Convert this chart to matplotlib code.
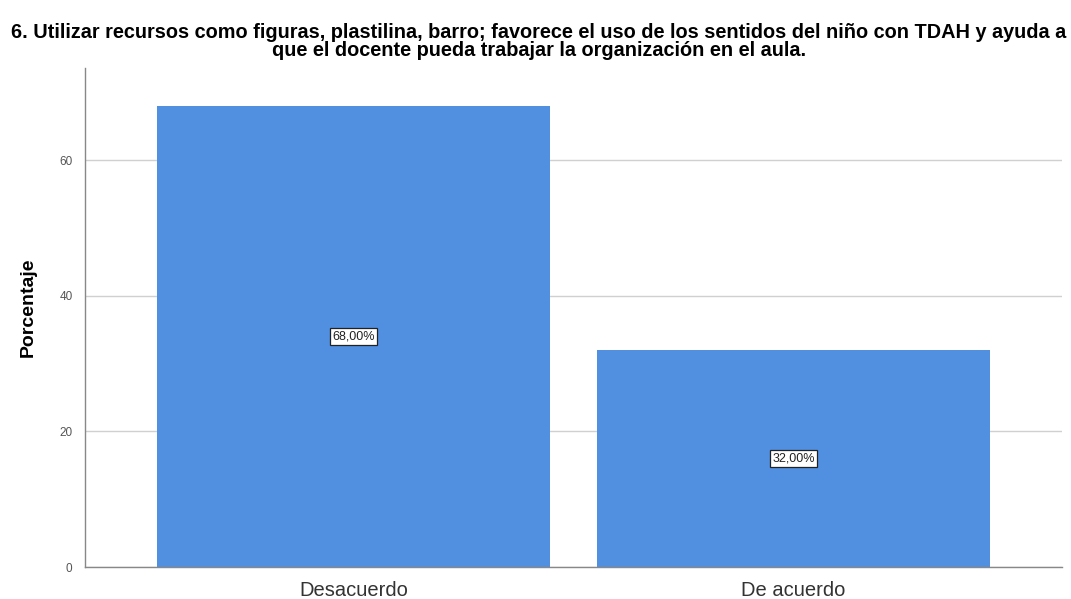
"""Bar chart: percentage of responses for item 6 (recursos / TDAH)."""

import matplotlib
matplotlib.use("Agg")
import matplotlib.pyplot as plt

categories = ["Desacuerdo", "De acuerdo"]
percentages = [68.0, 32.0]
bar_labels = ["68,00%", "32,00%"]
y_ticks = [0, 20, 40, 60]

title = ("6. Utilizar recursos como figuras, plastilina, barro; favorece el uso de los "
         "sentidos del niño con TDAH y ayuda a\n"
         "que el docente pueda trabajar la organización en el aula.")

plt.rcParams["font.family"] = ["Liberation Sans", "DejaVu Sans"]

fig = plt.figure(figsize=(10.71, 5.99), dpi=100)
ax = fig.add_axes([0.0794, 0.0534, 0.9122, 0.8331])

x = range(len(categories))
ax.bar(x, percentages, width=0.893, color="#518FE1", zorder=2)

# value labels in boxes at half bar height
for xi, val, lab in zip(x, percentages, bar_labels):
    ax.text(xi, val / 2, lab, ha="center", va="center", fontsize=9,
            color="#222222", zorder=3,
            bbox=dict(boxstyle="square,pad=0.2", facecolor="white",
                      edgecolor="#222222", linewidth=0.9))

ax.set_xlim(-0.61, 1.61)
ax.set_ylim(0, 73.6)
ax.set_xticks(list(x))
ax.set_xticklabels(categories, fontsize=14.5, color="#333333")
ax.set_yticks(y_ticks)
ax.set_yticklabels([str(t) for t in y_ticks], fontsize=8.5, color="#555555")
ax.tick_params(axis="both", length=0)
ax.tick_params(axis="x", pad=10)
ax.tick_params(axis="y", pad=9)

ax.yaxis.grid(True, color="#d0d0d0", linewidth=1.0, zorder=0)
ax.set_axisbelow(True)
for side in ["top", "right"]:
    ax.spines[side].set_visible(False)
for side in ["left", "bottom"]:
    ax.spines[side].set_color("#888888")
    ax.spines[side].set_linewidth(1.0)

ax.set_ylabel("Porcentaje", fontsize=14, fontweight="bold")
ax.yaxis.set_label_coords(-0.049, 0.52)

fig.suptitle(title, x=0.503, y=0.962, fontsize=14.3, fontweight="bold",
             linespacing=0.92)

fig.savefig("out.png", dpi=100)
plt.close(fig)
